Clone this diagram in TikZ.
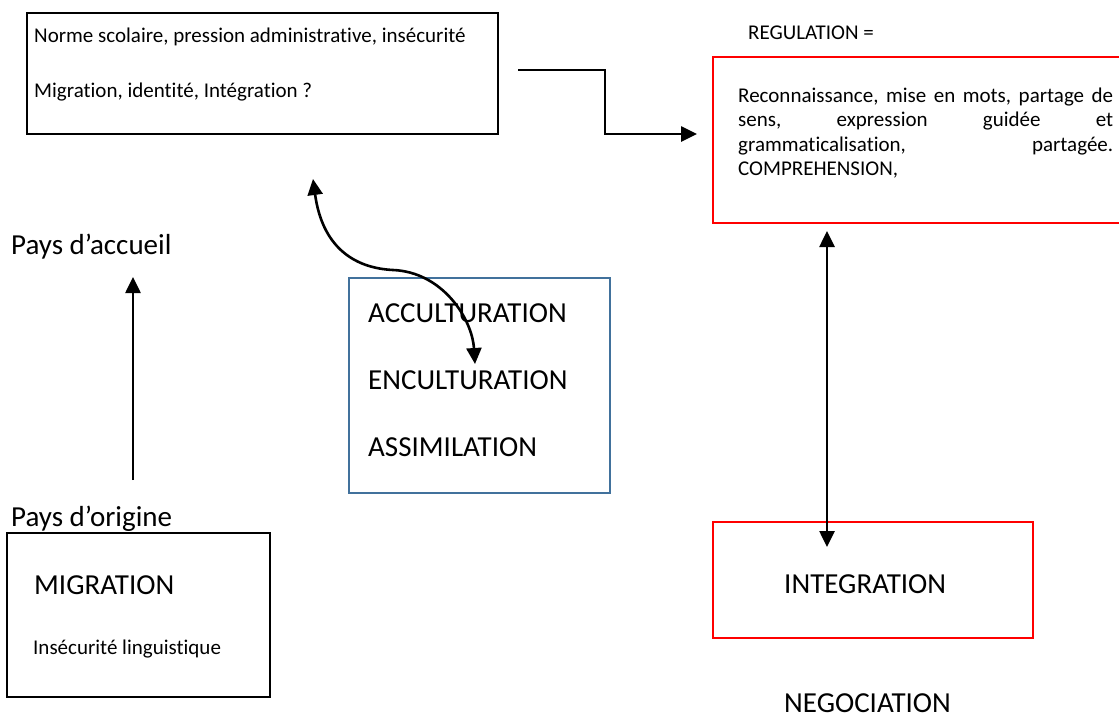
\documentclass[tikz,border=0pt]{standalone}
\usepackage{fontspec}
\setmainfont{Carlito}[Ligatures=NoCommon]
\usetikzlibrary{arrows.meta}

\definecolor{boxblue}{RGB}{65,113,156}

\tikzset{
	box/.style={draw, line width=1.7pt, inner sep=0pt},
	redbox/.style={box, draw=red},
	bluebox/.style={box, draw=boxblue, line width=1.3pt},
	small/.style={anchor=base west, inner sep=0pt, font=\fontsize{21}{24.5}\selectfont},
	big/.style={anchor=base west, inner sep=0pt, font=\fontsize{29}{34}\selectfont},
	arr/.style={line width=2.6pt, -{Triangle[length=16pt,width=15pt]}},
	darr/.style={line width=2.6pt, {Triangle[length=16pt,width=15pt]}-{Triangle[length=16pt,width=15pt]}}
}

\begin{document}
\begin{tikzpicture}[x=1pt,y=-1pt]

	\useasboundingbox (0,0) rectangle (1119,720);

	% boxes
	\node [box, minimum width=471pt, minimum height=121pt] (norme) at (262.5,73.5) {};
	\node [redbox, minimum width=412pt, minimum height=166pt] (regul) at (919,140) {};
	\node [bluebox, minimum width=261pt, minimum height=215pt] (accul) at (479.5,385.5) {};
	\node [box, minimum width=263pt, minimum height=164pt] (migr) at (138.5,615) {};
	\node [redbox, minimum width=320pt, minimum height=116pt] (integ) at (873,580) {};

	% texts
	\node [small] (norme1) at (34,42) {Norme scolaire, pression administrative, insécurité};
	\node [small] (norme2) at (34,97) {Migration, identité, Intégration ?};
	\node [small] (regtitle) at (748,39) {REGULATION =};
	\node [small, anchor=north west, text width=375pt, align=left] (regtext) at (738,87.5)
		{Reconnaissance,\hfill mise\hfill en\hfill mots,\hfill partage\hfill de\\
		 sens,\hfill expression\hfill guidée\hfill et\\
		 grammaticalisation,\hfill partagée.\\
		 COMPREHENSION,};
	\node [big] (accueil) at (11,254) {Pays d’accueil};
	\node [big] (origine) at (11,526) {Pays d’origine};
	\node [big] (migration) at (34,594.5) {MIGRATION};
	\node [small] (insecu) at (33,654) {Insécurité linguistique};
	\node [big] (acculturation) at (368,322.5) {ACCULTURATION};
	\node [big] (enculturation) at (368,389.5) {ENCULTURATION};
	\node [big] (assimilation) at (368,456.5) {ASSIMILATION};
	\node [big] (integration) at (784,593.5) {INTEGRATION};
	\node [big] (negociation) at (784,712) {NEGOCIATION};

	% arrow ends
	\coordinate (e1) at (518,70);
	\coordinate (e2) at (697,134);
	\coordinate (o1) at (133,480);
	\coordinate (o2) at (133,277);
	\coordinate (r1) at (827,231);
	\coordinate (r2) at (827,547);
	\coordinate (c1) at (313,179);
	\coordinate (c2) at (393,270);
	\coordinate (c3) at (475,364);

	% arrows
	\draw [arr] (e1) -- ++(87,0) |- (e2);
	\draw [arr] (o1) -- (o2);
	\draw [darr] (r1) -- (r2);
	\draw [darr] (c1) .. controls (322,245) and (352,268) .. (c2)
		.. controls (442,272) and (472,318) .. (c3);

\end{tikzpicture}
\end{document}
